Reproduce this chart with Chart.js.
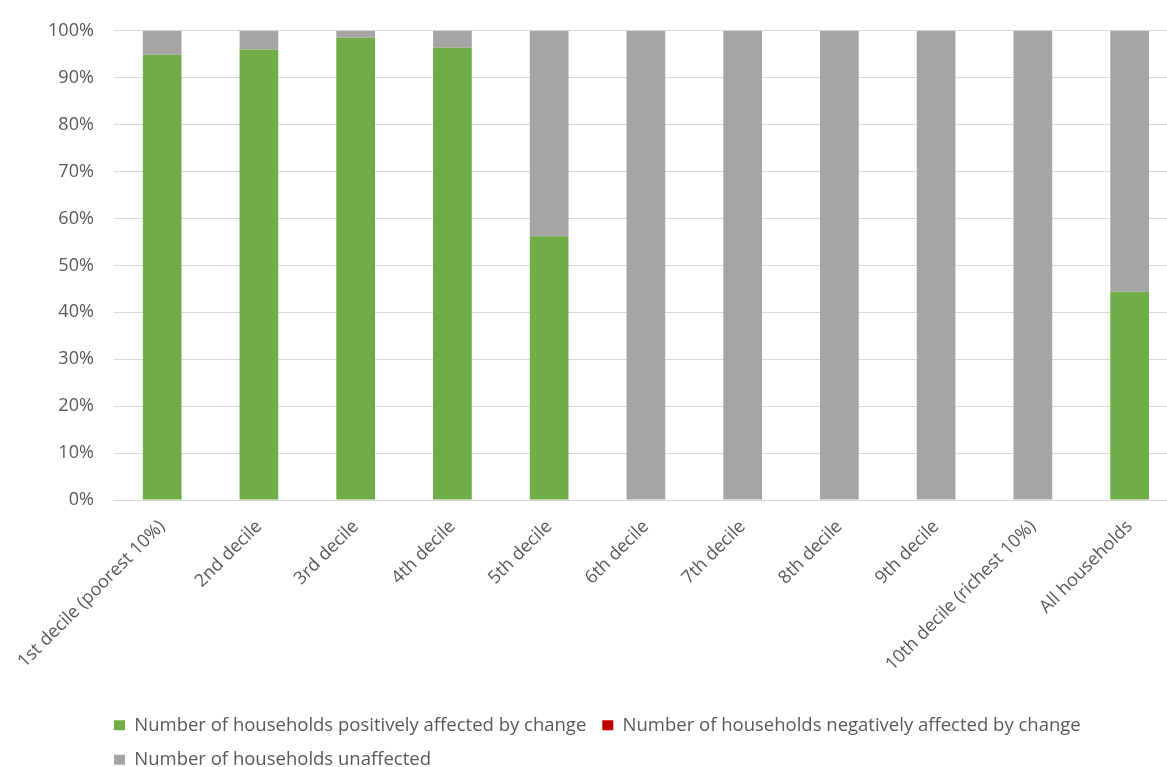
<!DOCTYPE html>
<html><head><meta charset="utf-8">
<script src="https://cdn.jsdelivr.net/npm/chart.js@4/dist/chart.umd.min.js"></script>
<style>html,body{margin:0;padding:0;background:#fff;overflow:hidden;} #wrap{width:1180px;height:767px;position:relative;}</style>
</head><body><div id="wrap"><canvas id="c" width="1180" height="767"></canvas></div>
<script>
const categories = ["1st decile (poorest 10%)", "2nd decile", "3rd decile", "4th decile", "5th decile", "6th decile", "7th decile", "8th decile", "9th decile", "10th decile (richest 10%)", "All households"];
const positive = [94.9, 96.0, 98.5, 96.4, 56.2, 0, 0, 0, 0, 0, 44.4];
const negative = [0, 0, 0, 0, 0, 0, 0, 0, 0, 0, 0];
const unaffected = [5.1, 4.0, 1.5, 3.6, 43.8, 100, 100, 100, 100, 100, 55.6];
const seriesNames = ["Number of households positively affected by change", "Number of households negatively affected by change", "Number of households unaffected"];
const seriesColors = ["#70AD47", "#C00000", "#A5A5A5"];

const FONT = "'Open Sans', 'DejaVu Sans', sans-serif";
const LEG_PAD = 16;

const legendShift = {
  id: 'legendShift',
  beforeLayout(chart) {
    const lg = chart.legend;
    if (lg && !lg._patched) {
      const f = lg.fit.bind(lg);
      lg.fit = function () { f(); this.height = 78; };
      lg._patched = true;
    }
  },
  afterLayout(chart) {
    const lg = chart.legend;
    lg.left = 114 - LEG_PAD;
    lg.top = 700;
  }
};

new Chart(document.getElementById('c'), {
  type: 'bar',
  data: {
    labels: categories,
    datasets: [positive, negative, unaffected].map((d, i) => ({
      label: seriesNames[i],
      data: d,
      backgroundColor: seriesColors[i],
      borderWidth: 0,
      categoryPercentage: 0.8,
      barPercentage: 0.5
    }))
  },
  options: {
    responsive: false,
    animation: false,
    layout: { padding: { top: 27, right: 2, left: 0, bottom: 0 } },
    plugins: {
      tooltip: { enabled: false },
      legend: {
        position: 'bottom',
        align: 'start',
        labels: {
          boxWidth: 11, boxHeight: 10, padding: LEG_PAD,
          color: '#595959',
          font: { family: FONT, size: 18.5 }
        }
      }
    },
    scales: {
      x: {
        stacked: true,
        grid: { display: false, drawTicks: false },
        border: { display: true, color: '#D9D9D9', width: 1 },
        ticks: {
          autoSkip: false, maxRotation: 45, minRotation: 45, padding: 16,
          color: '#595959', font: { family: FONT, size: 18 }
        },
        afterFit(s) { s.height = 189; }
      },
      y: {
        stacked: true, min: 0, max: 100,
        grid: { color: '#D9D9D9', drawTicks: false },
        border: { display: false },
        ticks: {
          stepSize: 10, padding: 20,
          color: '#595959', font: { family: FONT, size: 18 },
          callback: v => v + '%'
        },
        afterFit(s) { s.width = 113; }
      }
    }
  },
  plugins: [legendShift]
});
</script></body></html>
